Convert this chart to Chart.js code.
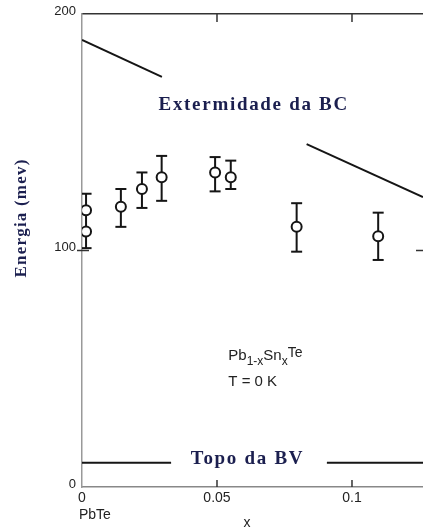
<!DOCTYPE html>
<html>
<head>
<meta charset="utf-8">
<script src="https://cdn.jsdelivr.net/npm/chart.js@4"></script>
<style>
  html, body { margin: 0; padding: 0; background: #fff; }
  canvas { display: block; }
</style>
</head>
<body>
<canvas id="energyChart" width="423" height="532"></canvas>
<script>
// measured points (x = fraction of Sn, energia in meV)
const pointX = [0.0015, 0.0015, 0.0144, 0.0222, 0.0295, 0.0493, 0.0551, 0.0795, 0.1097];
const pointE = [117, 108, 118.5, 126, 131, 133, 131, 110, 106];

// error bars
const barX = [0.0015, 0.0144, 0.0222, 0.0295, 0.0493, 0.0551, 0.0795, 0.1097];
const barLow = [101, 110, 118, 121, 125, 126, 99.5, 96];
const barHigh = [124, 126, 133, 140, 139.5, 138, 120, 116];

// band edges, broken where the labels sit
const cbX = [[0, 0.0296], [0.0832, 0.1263]];
const cbE = [[189, 173.4], [145, 122.6]];
const vbX = [[0, 0.033], [0.0907, 0.1263]];
const vbE = 10.3;

const xTicks = [0, 0.05, 0.1];
const xTickLabels = ['0', '0.05', '0.1'];
const yTicks = [0, 100, 200];
const yTickLabels = ['0', '100', '200'];
const innerTicksX = [0.05, 0.1];
const innerTicksY = [100];

const ink = '#151515';
const navy = '#1b1f4f';

function segData(xs, es) {
    return xs.map((v, i) => ({ x: v, y: es[i] }));
}

const errData = [];
barX.forEach((v, i) => {
    errData.push({ x: v, y: barLow[i] });
    errData.push({ x: v, y: barHigh[i] });
    errData.push({ x: v, y: null });
});

const datasets = [
    {
        label: 'medidas',
        data: pointX.map((v, i) => ({ x: v, y: pointE[i] })),
        pointStyle: 'circle',
        pointRadius: 5,
        pointBorderWidth: 2,
        pointBackgroundColor: '#fff',
        pointBorderColor: ink,
        showLine: false
    },
    {
        label: 'erro',
        data: errData,
        showLine: true,
        spanGaps: false,
        borderColor: ink,
        borderWidth: 2,
        pointStyle: 'line',
        pointRadius: 5.5,
        pointBorderWidth: 2,
        pointBorderColor: ink
    }
];
cbX.forEach((xs, i) => {
    datasets.push({
        label: 'BC',
        data: segData(xs, cbE[i]),
        showLine: true,
        borderColor: ink,
        borderWidth: 2,
        pointRadius: 0
    });
});
vbX.forEach(xs => {
    datasets.push({
        label: 'BV',
        data: segData(xs, xs.map(() => vbE)),
        showLine: true,
        borderColor: ink,
        borderWidth: 2,
        pointRadius: 0
    });
});

function setTicks(values) {
    return function (scale) {
        scale.ticks = values.map(v => ({ value: v }));
    };
}

const paperPlugin = {
    id: 'paper',
    afterDraw(chart) {
        const ctx = chart.ctx;
        const x = chart.scales.x;
        const y = chart.scales.y;
        const area = chart.chartArea;
        const line = (x1, y1, x2, y2) => {
            ctx.beginPath(); ctx.moveTo(x1, y1); ctx.lineTo(x2, y2); ctx.stroke();
        };
        ctx.save();
        ctx.strokeStyle = '#333';
        ctx.lineWidth = 1.5;
        innerTicksX.forEach(v => {
            const px = x.getPixelForValue(v);
            line(px, area.bottom, px, area.bottom - 7);
            line(px, area.top, px, area.top + 8);
        });
        innerTicksY.forEach(v => {
            const py = y.getPixelForValue(v);
            line(area.left - 5, py, area.left + 7, py);
            line(area.right - 7, py, area.right, py);
        });

        // band labels
        ctx.fillStyle = navy;
        ctx.font = 'bold 19px "Liberation Serif"';
        ctx.letterSpacing = '1.7px';
        ctx.textAlign = 'center';
        ctx.textBaseline = 'middle';
        ctx.fillText('Extermidade da BC', x.getPixelForValue(0.0636), y.getPixelForValue(161.5));
        ctx.fillText('Topo da BV', x.getPixelForValue(0.0613), y.getPixelForValue(11.8));

        // axis title
        ctx.save();
        ctx.font = 'bold 17px "Liberation Serif"';
        ctx.letterSpacing = '1.2px';
        ctx.translate(22, 218);
        ctx.rotate(-Math.PI / 2);
        ctx.fillText('Energia (mev)', 0, 0);
        ctx.restore();

        // composition label
        ctx.letterSpacing = '0px';
        ctx.fillStyle = '#222';
        ctx.textAlign = 'left';
        ctx.textBaseline = 'alphabetic';
        let cx = x.getPixelForValue(0.0542);
        const base = y.getPixelForValue(53.5);
        const parts = [
            ['Pb', 15, 0], ['1-x', 12, 5], ['Sn', 15, 0], ['x', 12, 5], ['Te', 14, -3]
        ];
        parts.forEach(p => {
            ctx.font = p[1] + 'px "Liberation Sans"';
            ctx.fillText(p[0], cx, base + p[2]);
            cx += ctx.measureText(p[0]).width;
        });
        ctx.font = '15px "Liberation Sans"';
        ctx.fillText('T = 0 K', x.getPixelForValue(0.0542), y.getPixelForValue(42.5));

        ctx.font = '14px "Liberation Sans"';
        ctx.fillText('PbTe', 79, 519);
        ctx.textAlign = 'center';
        ctx.fillText('x', 247, 527);
        ctx.restore();
    }
};

new Chart(document.getElementById('energyChart'), {
    type: 'scatter',
    data: { datasets: datasets },
    plugins: [paperPlugin],
    options: {
        responsive: false,
        animation: false,
        layout: { autoPadding: false, padding: { top: 14, right: 0, left: 0, bottom: 0 } },
        scales: {
            x: {
                type: 'linear',
                min: 0,
                max: 0.1263,
                afterBuildTicks: setTicks(xTicks),
                afterFit(scale) { scale.height = 45; },
                border: { color: '#888', width: 1.5 },
                grid: { display: false, drawTicks: false },
                ticks: {
                    color: '#222',
                    font: { family: 'Liberation Sans', size: 14 },
                    padding: 3,
                    maxRotation: 0,
                    callback: (v) => xTickLabels[xTicks.indexOf(v)]
                }
            },
            xTop: {
                type: 'linear',
                position: 'top',
                min: 0,
                max: 0.1263,
                afterFit(scale) { scale.height = 0; },
                border: { color: '#333', width: 1.5 },
                grid: { display: false, drawTicks: false },
                ticks: { display: false }
            },
            y: {
                type: 'linear',
                min: 0,
                max: 200,
                afterBuildTicks: setTicks(yTicks),
                afterFit(scale) { scale.width = 82; },
                border: { color: '#999', width: 1.5 },
                grid: { display: false, drawTicks: false },
                ticks: {
                    color: '#222',
                    font: { family: 'Liberation Sans', size: 13 },
                    padding: 6,
                    labelOffset: -3,
                    callback: (v) => yTickLabels[yTicks.indexOf(v)]
                }
            }
        },
        plugins: {
            legend: { display: false },
            tooltip: { enabled: false }
        }
    }
});
</script>
</body>
</html>
